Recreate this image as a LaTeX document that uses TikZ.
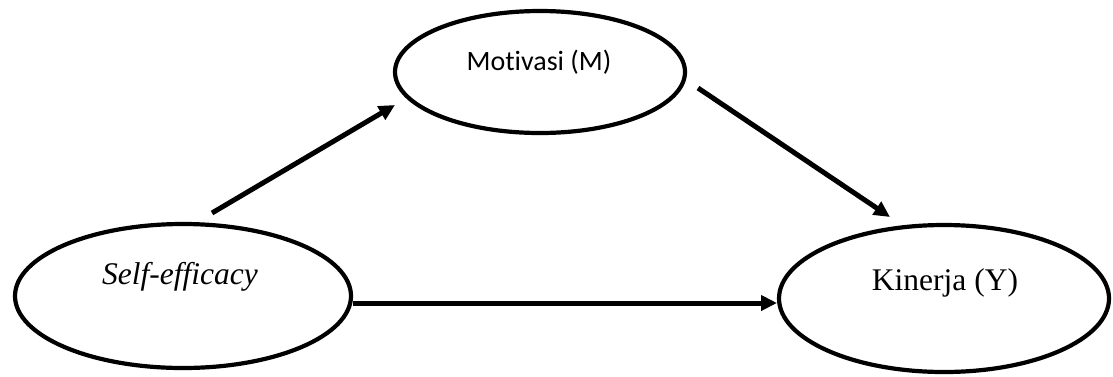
\documentclass[tikz,border=0pt]{standalone}
\usepackage{fontspec}
\setmainfont{Liberation Serif}
\newfontfamily\carlitofont[Ligatures=NoCommon]{Carlito}
\usetikzlibrary{shapes.geometric,arrows.meta}
\begin{document}
\begin{tikzpicture}[x=1pt,y=-1pt,
  oval/.style={draw,ellipse,line width=4.2pt,inner sep=0pt},
  conn/.style={line width=5pt,-{Triangle[length=16pt,width=15pt]}},
  lbl/.style={inner sep=0pt,anchor=center}]
\useasboundingbox (0,0) rectangle (1113,376);
\node[oval,minimum width=336pt,minimum height=144pt] (se) at (183,296) {};
\node[oval,minimum width=290pt,minimum height=122pt] (mo) at (540,72) {};
\node[oval,minimum width=330pt,minimum height=147pt] (ki) at (944,298.5) {};
\node[lbl,font=\fontsize{31.5}{37}\selectfont\itshape] (set) at (180,277) {Self-efficacy};
\node[lbl,font=\carlitofont\fontsize{28}{34}\selectfont] (mot) at (539,62) {Motivasi (M)};
\node[lbl,font=\fontsize{31.5}{37}\selectfont] (kit) at (945,283) {Kinerja (Y)};
\coordinate (a1s) at (212,213);
\coordinate (a1e) at (395,105);
\coordinate (a2s) at (698,88);
\coordinate (a2e) at (890,217);
\coordinate (a3s) at (353,303);
\coordinate (a3e) at (777,303);
\draw[conn] (a1s) -- (a1e);
\draw[conn] (a2s) -- (a2e);
\draw[conn] (a3s) -- (a3e);
\end{tikzpicture}
\end{document}
